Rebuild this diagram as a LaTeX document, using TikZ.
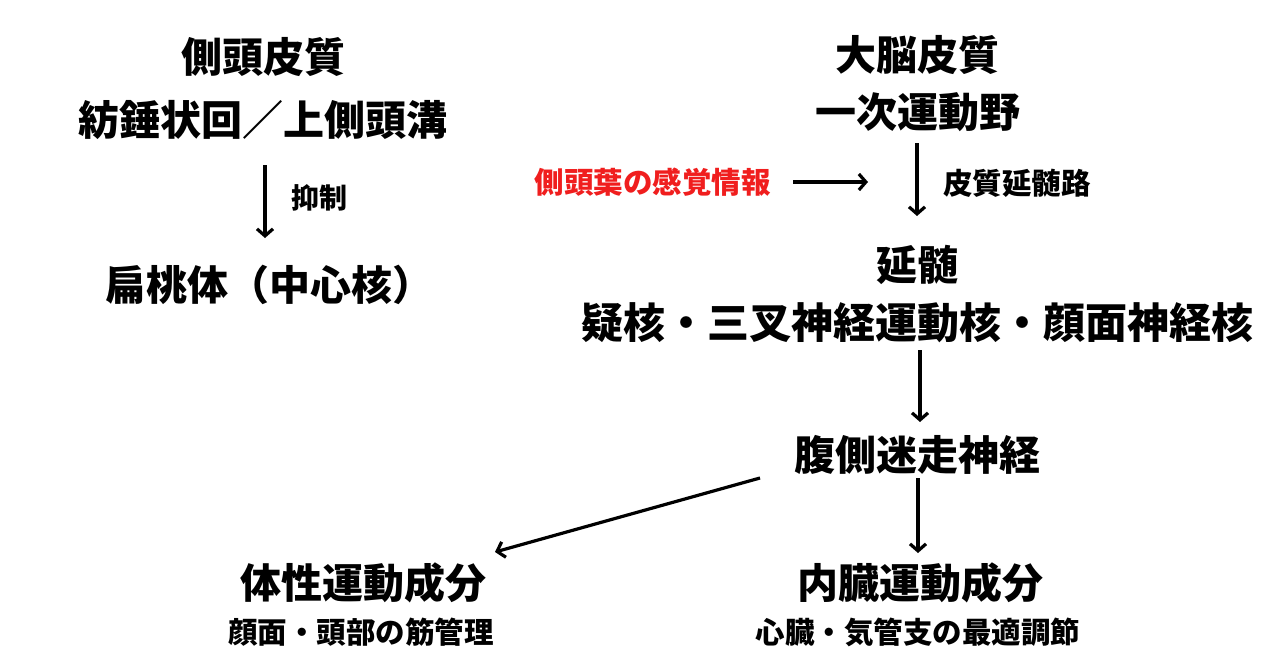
\documentclass[tikz,border=0pt]{standalone}
\usepackage{fontspec}
\setmainfont{Noto Sans CJK JP}[BoldFont={Noto Sans CJK JP Black}]
\usetikzlibrary{arrows.meta}
\begin{document}
\begin{tikzpicture}[x=1pt,y=-1pt,
  big/.style={font=\fontsize{41}{46}\selectfont\bfseries, inner sep=0pt},
  small/.style={font=\fontsize{29.5}{32}\selectfont\bfseries, inner sep=0pt},
  conn/.style={line width=3.2pt, -{Straight Barb[length=7pt,width=16pt,line width=3.2pt]}}]
\useasboundingbox[fill=white] (0,0) rectangle (1280,670);
% left column
\node[big] (lt1) at (263,57) {側頭皮質};
\node[big] (lt2) at (263,120) {紡錘状回／上側頭溝};
\coordinate (la1) at (265,165);
\coordinate (la2) at (265,238);
\draw[conn] (la1) -- (la2);
\node[small, font=\fontsize{28}{30}\selectfont\bfseries, anchor=west] (inh) at (291,198) {抑制};
\node[big] (amy) at (269,285) {扁桃体（中心核）};
% right column
\node[big] (rt1) at (917,55) {大脳皮質};
\node[big] (rt2) at (918,112) {一次運動野};
\coordinate (ra1) at (917,143);
\coordinate (ra2) at (917,216);
\draw[conn] (ra1) -- (ra2);
\node[small, anchor=west] (cbt) at (943,183) {皮質延髄路};
\node[small, text={rgb,255:red,240;green,30;blue,30}, anchor=east] (sens) at (771,182) {側頭葉の感覚情報};
\coordinate (sa2) at (868,182);
\draw[conn] ([xshift=22pt]sens.east) -- (sa2);
\node[big] (med1) at (917,265) {延髄};
\node[big, font=\fontsize{42}{46}\selectfont\bfseries] (med2) at (917,323) {疑核・三叉神経運動核・顔面神経核};
\coordinate (ma1) at (920,350);
\coordinate (ma2) at (920,422);
\draw[conn] (ma1) -- (ma2);
\node[big] (vag) at (917,455) {腹側迷走神経};
\coordinate (va1) at (918,478);
\coordinate (va2) at (918,553);
\draw[conn] (va1) -- (va2);
\coordinate (da1) at (760,478);
\coordinate (da2) at (495,552);
\draw[conn] (da1) -- (da2);
\node[big] (som) at (363,583) {体性運動成分};
\node[small] (som2) at (361,632) {顔面・頭部の筋管理};
\node[big] (vis) at (920,583) {内臓運動成分};
\node[small] (vis2) at (918,632) {心臓・気管支の最適調節};
\end{tikzpicture}
\end{document}
